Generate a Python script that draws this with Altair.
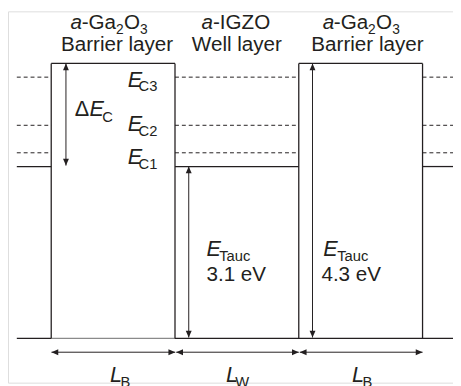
import altair as alt
import pandas as pd

INK = "#231f20"
FONT = "Liberation Sans"

# ---- diagram values (x in layer-thickness units, L_B = L_W = 1; y in arbitrary energy units) ----
bounds = [0, 1, 2, 3]            # barrier | well | barrier interfaces
lead_left, lead_right = -0.278, 3.246
E_V = 0                          # common band reference (bottom line)
E_C_well = 175                   # a-IGZO conduction band edge
E_C_barrier = 280                # a-Ga2O3 conduction band edge
sub_levels = [189, 217, 266]     # E_C1, E_C2, E_C3 (dashed)

# solid outline segments
solid = pd.DataFrame([
    [lead_left, 0, E_C_well, E_C_well, INK],
    [lead_left, 0, E_V, E_V, INK],
    [0, 1, E_V, E_V, "#8a8a8a"],
    [1, lead_right, E_V, E_V, INK],
    [0, 0, E_V, E_C_barrier, INK],
    [1, 1, E_V, E_C_barrier, INK],
    [2, 2, E_V, E_C_barrier, INK],
    [3, 3, E_V, E_C_barrier, INK],
    [0, 1, E_C_barrier, E_C_barrier, INK],
    [2, 3, E_C_barrier, E_C_barrier, INK],
    [1, 2, E_C_well, E_C_well, INK],
    [3, lead_right, E_C_well, E_C_well, INK],
], columns=["x", "x2", "y", "y2", "c"])

dash_rows = []
for lv in sub_levels:
    for a, b in [(lead_left, 0), (1, 2), (3, lead_right)]:
        dash_rows.append([a, b, lv, lv])
dashed = pd.DataFrame(dash_rows, columns=["x", "x2", "y", "y2"])

# double-headed arrows: x1, y1, x2, y2
arrows = pd.DataFrame([
    [0.119, 176, 0.119, E_C_barrier],     # Delta E_C
    [1.111, 1, 1.111, E_C_well],          # E_Tauc well
    [2.111, 1, 2.111, E_C_barrier],       # E_Tauc barrier
    [0.002, -14, 1.002, -14],             # L_B
    [1.010, -14, 2.000, -14],             # L_W
    [2.008, -14, 3.000, -14],             # L_B
], columns=["x", "y", "x2", "y2"])

heads = []
for _, r in arrows.iterrows():
    if r.x == r.x2:
        heads.append([r.x, r.y, "down"])
        heads.append([r.x2, r.y2, "up"])
    else:
        heads.append([r.x, r.y, "left"])
        heads.append([r.x2, r.y2, "right"])
heads = pd.DataFrame(heads, columns=["x", "y", "dir"])
paths = {
    "up": "M0,0L-1,2.3L1,2.3Z",
    "down": "M0,0L-1,-2.3L1,-2.3Z",
    "left": "M0,0L2.3,-1L2.3,1Z",
    "right": "M0,0L-2.3,-1L-2.3,1Z",
}

# text pieces: text, x, y(baseline), font size
ital = pd.DataFrame([
    ["a", 0.156, 315, 21], ["a", 2.193, 315, 21], ["a", 1.214, 315, 21],
    ["E", 0.619, 256, 22], ["E", 0.619, 211, 22], ["E", 0.619, 178, 22],
    ["E", 0.310, 226, 22],
    ["E", 1.254, 84, 22], ["E", 2.198, 84, 22],
    ["L", 0.474, -44, 22], ["L", 1.413, -44, 22], ["L", 2.431, -44, 22],
], columns=["t", "x", "y", "fs"])

norm = pd.DataFrame([
    ["-Ga", 0.246, 315, 21], ["2", 0.524, 310, 14], ["O", 0.587, 315, 21], ["3", 0.718, 310, 14],
    ["-Ga", 2.283, 315, 21], ["2", 2.560, 310, 14], ["O", 2.624, 315, 21], ["3", 2.755, 310, 14],
    ["-IGZO", 1.307, 315, 21],
    ["C3", 0.706, 252, 15], ["C2", 0.706, 206, 15], ["C1", 0.706, 173, 15],
    ["\u0394", 0.190, 226, 22], ["C", 0.413, 220, 15],
    ["Tauc", 1.357, 79, 15], ["Tauc", 2.310, 79, 15],
    ["3.1 eV", 1.254, 58, 21], ["4.3 eV", 2.183, 58, 21],
    ["B", 0.560, -49, 15], ["W", 1.487, -49, 15], ["B", 2.514, -49, 15],
], columns=["t", "x", "y", "fs"])

centered = pd.DataFrame([
    ["Barrier layer", 0.532, 293, 21],
    ["Well layer", 1.500, 293, 21],
    ["Barrier layer", 2.555, 293, 21],
], columns=["t", "x", "y", "fs"])

xs = alt.Scale(domain=[-0.3492, 3.2460], nice=False, zero=False)
ys = alt.Scale(domain=[-45, 333], nice=False, zero=False)
X = lambda f="x": alt.X(f"{f}:Q", scale=xs, axis=None)
Y = lambda f="y": alt.Y(f"{f}:Q", scale=ys, axis=None)

layers = []
layers.append(alt.Chart(solid).mark_rule(strokeWidth=1.3).encode(
    x=X(), x2="x2:Q", y=Y(), y2="y2:Q", color=alt.Color("c:N", scale=None)))
layers.append(alt.Chart(dashed).mark_rule(strokeWidth=1, strokeDash=[4, 3], color=INK).encode(
    x=X(), x2="x2:Q", y=Y(), y2="y2:Q"))
layers.append(alt.Chart(arrows).mark_rule(strokeWidth=1, color=INK).encode(
    x=X(), x2="x2:Q", y=Y(), y2="y2:Q"))
for d, p in paths.items():
    layers.append(alt.Chart(heads[heads.dir == d]).mark_point(
        shape=p, size=36, filled=True, color=INK, opacity=1, strokeWidth=0).encode(x=X(), y=Y()))

def text_layer(df, **kw):
    return alt.Chart(df).mark_text(font=FONT, color=INK, baseline="alphabetic", **kw).encode(
        x=X(), y=Y(), text="t:N", size=alt.Size("fs:Q", scale=None, legend=None))

layers.append(text_layer(ital, fontStyle="italic", align="left"))
layers.append(text_layer(norm, align="left"))
layers.append(text_layer(centered, align="center"))

chart = alt.layer(*layers).properties(
    width=453, height=378,
    autosize=alt.AutoSizeParams(type="none"),
    padding=0,
).configure_view(strokeWidth=0).configure(background="white")

chart.save("out.html", embed_options={"renderer": "svg", "actions": False})
